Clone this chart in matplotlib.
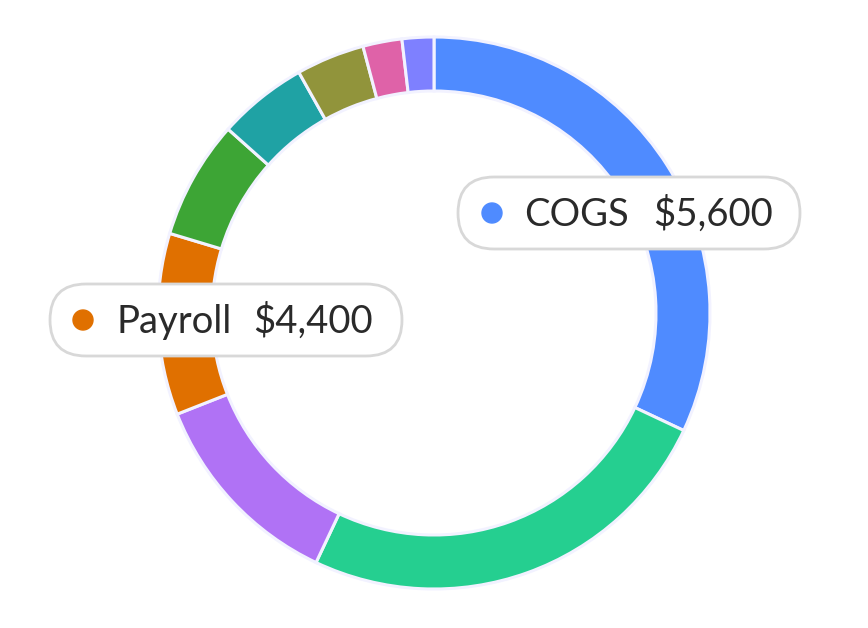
import matplotlib.pyplot as plt
from matplotlib.patches import FancyBboxPatch, Circle

# segment values in $, clockwise from 12 o'clock
values = [5600, 4380, 2100, 1860, 1215, 920, 700, 400, 325]
colors = ['#4f8bff', '#25cf90', '#b072f5', '#e07000', '#3da535',
          '#1fa2a4', '#91943b', '#df62a8', '#7e80ff']

# tooltip labels shown on the chart
tip_names = ['COGS', 'Payroll']
tip_values = ['$5,600', '$4,400']
tip_colors = ['#4f8bff', '#e07000']

plt.rcParams['font.family'] = ['Lato', 'DejaVu Sans']

fig = plt.figure(figsize=(8.68, 6.28), dpi=100)
ax = fig.add_axes([0, 0, 1, 1])

ax.pie(values, colors=colors, startangle=90, counterclock=False,
       center=(434, 315), radius=276,
       wedgeprops=dict(width=54, edgecolor='#f2f2ff', linewidth=2.2))

ax.set_xlim(0, 868)
ax.set_ylim(0, 628)
ax.set_aspect('equal')
ax.axis('off')

# tooltip pills: (left, right, center y, dot x, name x, value x)
pills = [(458, 800, 415, 492, 524, 653),
         (50, 402, 308, 83, 117, 253)]

for (x0, x1, yc, dx, nx, vx), name, val, col in zip(pills, tip_names, tip_values, tip_colors):
    h = 72
    box = FancyBboxPatch((x0, yc - h / 2), x1 - x0, h,
                         boxstyle='round,pad=0,rounding_size=36',
                         facecolor='white', edgecolor='#d8d8d8', linewidth=2, zorder=5)
    ax.add_patch(box)
    ax.add_patch(Circle((dx, yc), 10, color=col, zorder=6))
    ax.text(nx, yc - 13, name, fontsize=27.5, color='#2a2a2a', va='baseline', ha='left', zorder=7)
    ax.text(vx, yc - 13, val, fontsize=27.5, color='#2a2a2a', va='baseline', ha='left', zorder=7)

fig.savefig('out.png', dpi=100, facecolor='white')
